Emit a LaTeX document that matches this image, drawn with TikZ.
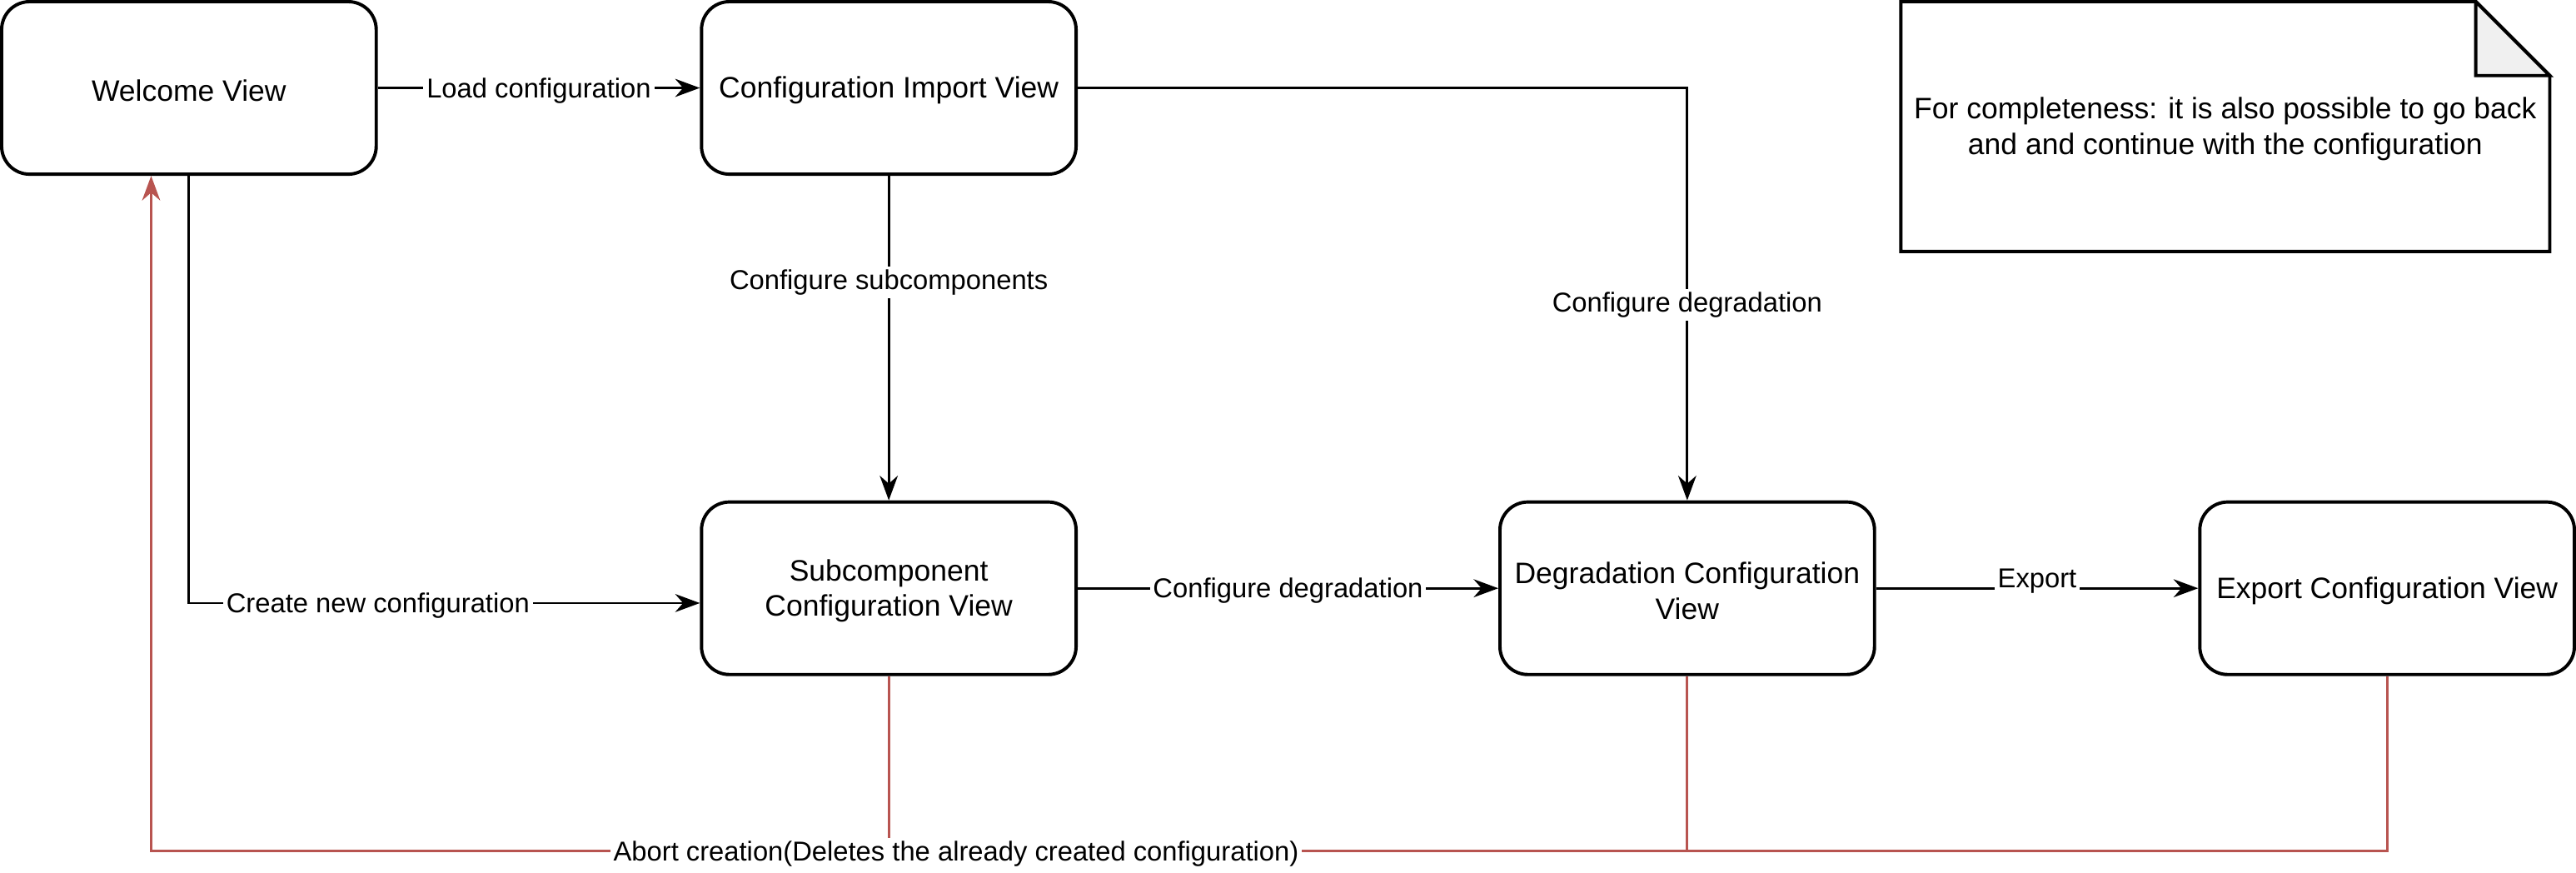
\documentclass[tikz,border=0pt]{standalone}
\usepackage{fontspec}
\setmainfont{Liberation Sans}
\usetikzlibrary{arrows.meta,calc}
\definecolor{abortred}{HTML}{B85450}
\definecolor{foldgray}{HTML}{F0F0F0}
\tikzset{
  view/.style={draw=black, line width=1pt, rounded corners=8.5pt, minimum width=114pt, minimum height=52.5pt, align=center, font=\fontsize{9}{10.8}\selectfont, inner sep=2pt},
  viewtext/.style={align=center, font=\fontsize{9}{10.8}\selectfont, inner sep=0pt},
  edge/.style={draw=black, line width=0.7pt, -{Stealth[length=7.5pt,width=5.5pt,inset=2.4pt]}},
  abort/.style={draw=abortred, line width=0.8pt},
  abortarrow/.style={draw=abortred, line width=0.8pt, -{Stealth[length=7.5pt,width=5.5pt,inset=2.4pt]}},
  lbl/.style={fill=white, inner sep=1pt, font=\fontsize{8.3}{10}\selectfont, text=black, yshift=-0.8pt},
  notetext/.style={align=center, font=\fontsize{9}{10.8}\selectfont}
}
\begin{document}
\begin{tikzpicture}[x=0.5pt,y=-0.5pt]
\useasboundingbox (0,0) rectangle (1568,531);
% nodes (boxes)
\node[view] (wel) at (115,53.5) {};
\node[view] (imp) at (541,53.5) {};
\node[view] (sub) at (541,358) {};
\node[view] (deg) at (1027,358) {};
\node[view] (exp) at (1453,358) {};
% box texts
\node[viewtext] (welt) at (115,55) {Welcome View};
\node[viewtext] (impt) at (541,55) {Configuration Import View};
\node[viewtext] (subt) at (541,359.5) {Subcomponent\\Configuration View};
\node[viewtext] (degt) at (1027,359.5) {Degradation Configuration\\View};
\node[viewtext] (expt) at (1453,359.5) {Export Configuration View};
% note
\draw[line width=1pt, fill=white] (1157,1) -- (1507,1) -- (1552,46) -- (1552,153) -- (1157,153) -- cycle;
\draw[line width=1pt, fill=foldgray] (1507,1) -- (1552,46) -- (1507,46) -- cycle;
\node[notetext] (note) at (1354.5,78.5) {For completeness: it is also possible to go back\\and and continue with the configuration};
% coordinates
\coordinate (bot) at (0,518);
\coordinate (welarr) at ($(wel.south)+(-11.5pt,0)$);
% connectors
\draw[edge] (wel) -- node[lbl]{Load configuration} (imp);
\draw[edge] (imp) -- node[lbl,pos=0.32]{Configure subcomponents} (sub);
\draw[edge] (imp.east) -| node[lbl,pos=0.76]{Configure degradation} (deg.north);
\draw[edge] (wel.south) |- node[lbl,pos=0.685]{Create new configuration} ($(sub.west)+(0,-4.5pt)$);
\draw[edge] (sub) -- node[lbl]{Configure degradation} (deg);
\draw[edge] (deg) -- node[lbl,yshift=3pt]{Export} (exp);
% abort connectors
\draw[abort] (sub.south) -- (sub.south |- bot);
\draw[abort] (deg.south) -- (deg.south |- bot);
\draw[abortarrow] (exp.south) -- (exp.south |- bot) -- node[lbl,pos=0.64]{Abort creation(Deletes the already created configuration)} (welarr |- bot) -- (welarr);
\end{tikzpicture}
\end{document}
